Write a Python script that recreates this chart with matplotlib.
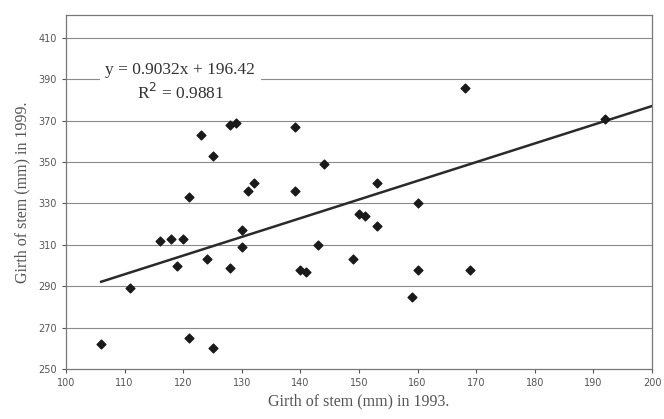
import matplotlib
matplotlib.use("Agg")
import matplotlib.pyplot as plt

# girth readings
girth_1993 = [106, 111, 116, 118, 119, 120, 121, 121, 123, 124, 125, 125,
              128, 128, 129, 130, 130, 131, 132, 139, 139, 140, 141, 143,
              144, 149, 150, 151, 153, 153, 159, 160, 160, 168, 169, 192]
girth_1999 = [262, 289, 312, 313, 300, 313, 333, 265, 363, 303, 353, 260,
              368, 299, 369, 317, 309, 336, 340, 367, 336, 298, 297, 310,
              349, 303, 325, 324, 319, 340, 285, 330, 298, 386, 298, 371]

slope = 0.9032
intercept = 196.42
r2 = 0.9881
trend_x = [106, 200]

xticks = list(range(100, 201, 10))
yticks = list(range(250, 411, 20))

fig = plt.figure(figsize=(6.64, 4.19), dpi=100)
ax = fig.add_axes([0.0994, 0.1193, 0.8826, 0.8447])

for y in yticks[1:]:
    ax.axhline(y, color="#8a8a8a", lw=0.8, zorder=0)

ax.scatter(girth_1993, girth_1999, marker="D", s=20, color="#1a1a1a", zorder=3)
ax.plot(trend_x, [slope * v + intercept for v in trend_x], color="#2a2a2a", lw=1.8, zorder=2)

ax.text(119.5, 394.5, "y = %.4fx + %.2f" % (slope, intercept),
        ha="center", va="center", family="Liberation Serif", fontsize=12.5,
        color="#333333", bbox=dict(facecolor="white", edgecolor="none", pad=4), zorder=4)
ax.text(119.5, 383.5, "R$^2$ = %.4f" % r2, ha="center", va="center",
        family="Liberation Serif", fontsize=12.5, color="#333333", zorder=4)

ax.set_xlim(100, 200)
ax.set_ylim(250, 421)
ax.set_xticks(xticks)
ax.set_yticks(yticks)
ax.tick_params(labelsize=7, colors="#555555", length=3, width=0.8)
for s in ax.spines.values():
    s.set_color("#777777")
    s.set_linewidth(0.9)

ax.set_xlabel("Girth of stem (mm) in 1993.", family="Liberation Serif", fontsize=11.5,
              color="#555555", labelpad=4)
ax.set_ylabel("Girth of stem (mm) in 1999.", family="Liberation Serif", fontsize=11.5,
              color="#555555", labelpad=6)

fig.savefig("out.png", dpi=100)
